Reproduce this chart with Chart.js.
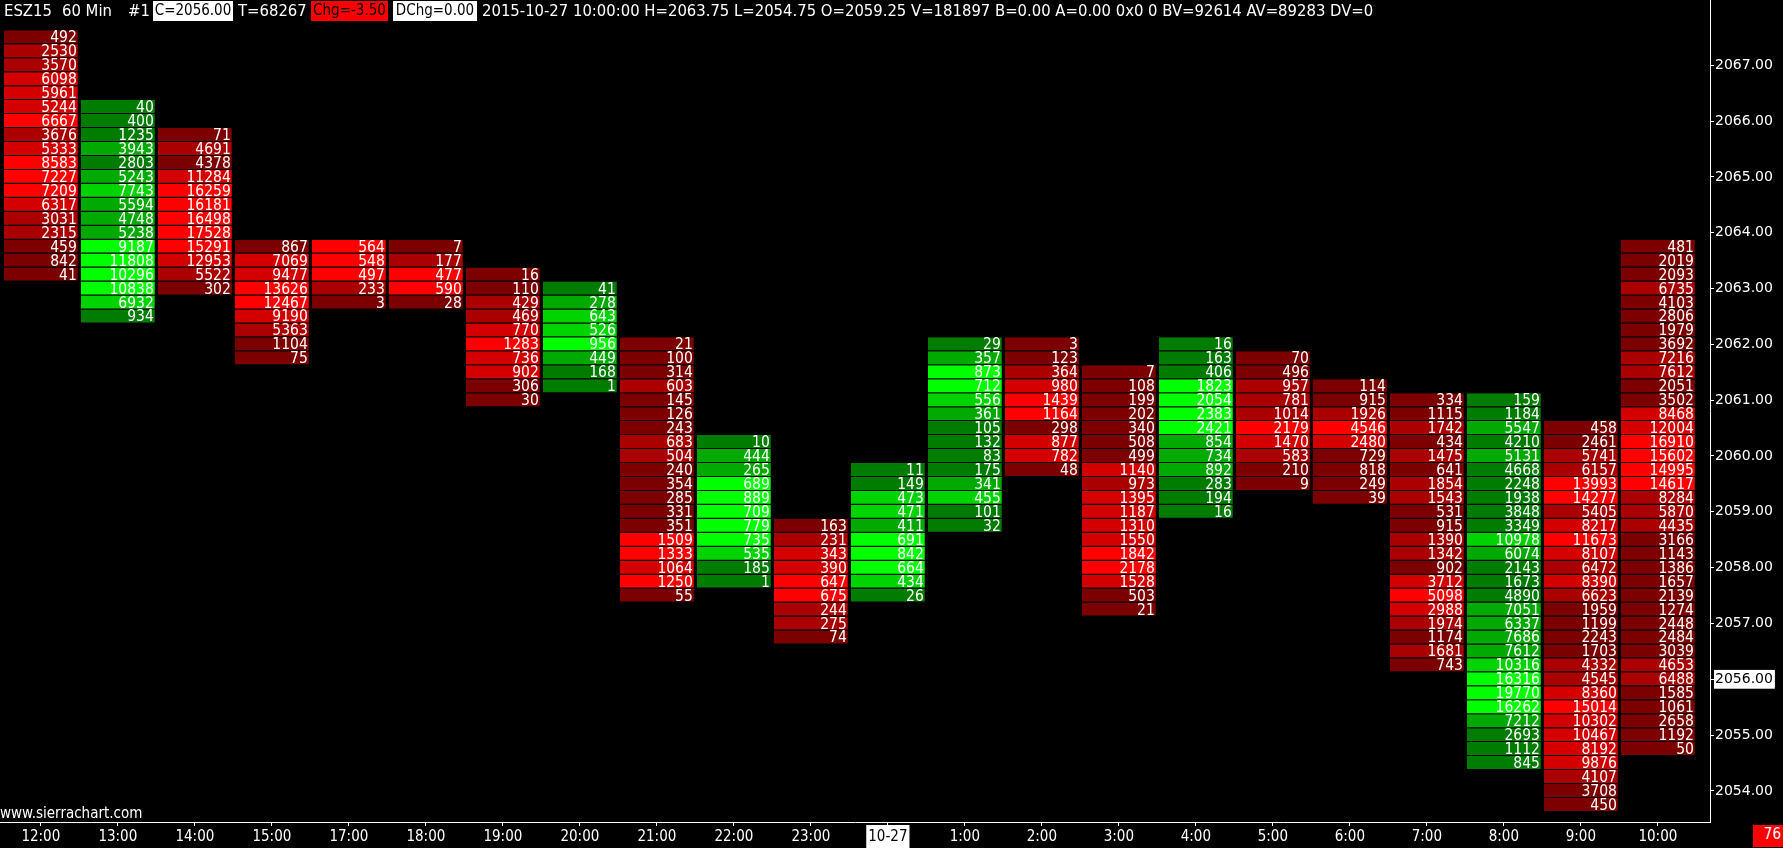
<!DOCTYPE html>
<html>
<head>
<meta charset="utf-8">
<title>ESZ15 60 Min - volume by price</title>
<script src="https://cdn.jsdelivr.net/npm/chart.js@4.4.0/dist/chart.umd.min.js"></script>
<style>
  html, body { margin: 0; padding: 0; background: #000; overflow: hidden; }
  #wrap { position: relative; width: 1783px; height: 848px; }
  canvas { position: absolute; left: 0; top: 0; }
  .hdr { position: absolute; top: 1px; height: 20px; line-height: 20px; color: #fff; white-space: pre;
         font: 16.5px "DejaVu Sans Condensed", "DejaVu Sans", sans-serif; font-stretch: condensed; }
  .box-w { background: #fff; color: #000; text-align: center; font-size: 15px; }
  .box-r { background: #ff0000; color: #000; text-align: center; font-size: 15px; }
  #site { position: absolute; left: 0; top: 804px; color: #fff; font: 15px "DejaVu Sans Condensed", "DejaVu Sans", sans-serif; font-stretch: condensed; }
  #timer { position: absolute; left: 1753px; top: 825px; width: 28px; height: 22px; line-height: 22px; padding-right: 2px;
           text-align: right; background: #ff0000; color: #fff; font: 15px "DejaVu Sans Condensed", "DejaVu Sans", sans-serif; font-stretch: condensed; }
</style>
</head>
<body>
<div id="wrap">
  <canvas id="footprint" width="1783" height="848"></canvas>
  <div id="header"></div>
  <div id="site">www.sierrachart.com</div>
  <div id="timer">76</div>
</div>
<script>
// bar times on the x axis
const hourLabels = ['12:00', '13:00', '14:00', '15:00', '17:00', '18:00', '19:00', '20:00', '21:00', '22:00', '23:00',
    '10-27', '1:00', '2:00', '3:00', '4:00', '5:00', '6:00', '7:00', '8:00', '9:00', '10:00'];
// bar direction (down = red, up = green)
const barSide = ['down', 'up', 'down', 'down', 'down', 'down', 'down', 'up', 'down', 'up', 'down',
    'up', 'up', 'down', 'down', 'up', 'down', 'down', 'down', 'up', 'down', 'down'];
// highest price of each bar, volumes listed from there downwards in 0.25 steps
const barHigh = [2067.50, 2066.25, 2065.75, 2063.75, 2063.75, 2063.75, 2063.25, 2063.00, 2062.00, 2060.25, 2058.75,
    2059.75, 2062.00, 2062.00, 2061.50, 2062.00, 2061.75, 2061.25, 2061.00, 2061.00, 2060.50, 2063.75];
const tickSize = 0.25;
const priceTicks = [2054, 2055, 2056, 2057, 2058, 2059, 2060, 2061, 2062, 2063, 2064, 2065, 2066, 2067];
const lastPrice = 2056;

const vol1200 = [492, 2530, 3570, 6098, 5961, 5244, 6667, 3676, 5333, 8583, 7227, 7209, 6317, 3031, 2315, 459, 842, 41];
const vol1300 = [40, 400, 1235, 3943, 2803, 5243, 7743, 5594, 4748, 5238, 9187, 11808, 10296, 10838, 6932, 934];
const vol1400 = [71, 4691, 4378, 11284, 16259, 16181, 16498, 17528, 15291, 12953, 5522, 302];
const vol1500 = [867, 7069, 9477, 13626, 12467, 9190, 5363, 1104, 75];
const vol1700 = [564, 548, 497, 233, 3];
const vol1800 = [7, 177, 477, 590, 28];
const vol1900 = [16, 110, 429, 469, 770, 1283, 736, 902, 306, 30];
const vol2000 = [41, 278, 643, 526, 956, 449, 168, 1];
const vol2100 = [21, 100, 314, 603, 145, 126, 243, 683, 504, 240, 354, 285, 331, 351, 1509, 1333, 1064, 1250, 55];
const vol2200 = [10, 444, 265, 689, 889, 709, 779, 735, 535, 185, 1];
const vol2300 = [163, 231, 343, 390, 647, 675, 244, 275, 74];
const vol0000 = [11, 149, 473, 471, 411, 691, 842, 664, 434, 26];
const vol0100 = [29, 357, 873, 712, 556, 361, 105, 132, 83, 175, 341, 455, 101, 32];
const vol0200 = [3, 123, 364, 980, 1439, 1164, 298, 877, 782, 48];
const vol0300 = [7, 108, 199, 202, 340, 508, 499, 1140, 973, 1395, 1187, 1310, 1550, 1842, 2178, 1528, 503, 21];
const vol0400 = [16, 163, 406, 1823, 2054, 2383, 2421, 854, 734, 892, 283, 194, 16];
const vol0500 = [70, 496, 957, 781, 1014, 2179, 1470, 583, 210, 9];
const vol0600 = [114, 915, 1926, 4546, 2480, 729, 818, 249, 39];
const vol0700 = [334, 1115, 1742, 434, 1475, 641, 1854, 1543, 531, 915, 1390, 1342, 902, 3712, 5098, 2988, 1974, 1174, 1681, 743];
const vol0800 = [159, 1184, 5547, 4210, 5131, 4668, 2248, 1938, 3848, 3349, 10978, 6074, 2143, 1673, 4890, 7051, 6337, 7686,
    7612, 10316, 16316, 19770, 16262, 7212, 2693, 1112, 845];
const vol0900 = [458, 2461, 5741, 6157, 13993, 14277, 5405, 8217, 11673, 8107, 6472, 8390, 6623, 1959, 1199, 2243, 1703, 4332,
    4545, 8360, 15014, 10302, 10467, 8192, 9876, 4107, 3708, 450];
const vol1000 = [481, 2019, 2093, 6735, 4103, 2806, 1979, 3692, 7216, 7612, 2051, 3502, 8468, 12004, 16910, 15602, 14995, 14617,
    8284, 5870, 4435, 3166, 1143, 1386, 1657, 2139, 1274, 2448, 2484, 3039, 4653, 6488, 1585, 1061, 2658, 1192, 50];

const barVolumes = [vol1200, vol1300, vol1400, vol1500, vol1700, vol1800, vol1900, vol2000, vol2100, vol2200, vol2300,
    vol0000, vol0100, vol0200, vol0300, vol0400, vol0500, vol0600, vol0700, vol0800, vol0900, vol1000];

// header line texts
const headerItems = [
    { text: 'ESZ15', x: 4 },
    { text: '60 Min', x: 62 },
    { text: '#1', x: 128 },
    { text: 'C=2056.00', x: 153, w: 80, cls: 'box-w' },
    { text: 'T=68267', x: 238 },
    { text: 'Chg=-3.50', x: 311, w: 77, cls: 'box-r' },
    { text: 'DChg=0.00', x: 393, w: 84, cls: 'box-w' },
    { text: '2015-10-27 10:00:00 H=2063.75 L=2054.75 O=2059.25 V=181897 B=0.00 A=0.00 0x0 0 BV=92614 AV=89283 DV=0', x: 482 }
];

const redShades = ['#7c0000', '#aa0000', '#d40000', '#ff0000'];
const greenShades = ['#007c00', '#00aa00', '#00d400', '#00ff00'];

// header
const header = document.getElementById('header');
headerItems.forEach(item => {
    const span = document.createElement('span');
    span.className = 'hdr' + (item.cls ? ' ' + item.cls : '');
    span.style.left = item.x + 'px';
    if (item.w) span.style.width = item.w + 'px';
    span.textContent = item.text;
    header.appendChild(span);
});

// one floating bar per price cell
const cells = [];
const cellColors = [];
const cellVolumes = [];
barVolumes.forEach((vols, col) => {
    const maxVol = Math.max(...vols);
    const shades = barSide[col] === 'up' ? greenShades : redShades;
    vols.forEach((v, row) => {
        const price = barHigh[col] - row * tickSize;
        cells.push({ x: col, y: [price - tickSize / 2, price + tickSize / 2] });
        // shade by quarter of the bar's largest volume
        cellColors.push(shades[Math.min(3, Math.floor(v / maxVol * 4))]);
        cellVolumes.push(v);
    });
});

const numberFont = '"DejaVu Sans Condensed", "DejaVu Sans", sans-serif';

// writes the volume inside each cell
const cellText = {
    id: 'cellText',
    afterDatasetsDraw(chart) {
        const c = chart.ctx;
        const meta = chart.getDatasetMeta(0);
        c.save();
        c.font = '15.5px ' + numberFont;
        c.fillStyle = '#ffffff';
        c.textAlign = 'right';
        c.textBaseline = 'middle';
        meta.data.forEach((bar, i) => {
            const p = bar.getProps(['x', 'y', 'base', 'width']);
            c.fillText(String(cellVolumes[i]), p.x + p.width / 2 - 1, (p.y + p.base) / 2 + 1);
        });
        c.restore();
    }
};

// no extra room for the first/last tick labels: plot fills the canvas
const noPadding = scale => {
    scale.paddingTop = 0;
    scale.paddingBottom = 0;
    scale.paddingLeft = 0;
    scale.paddingRight = 0;
};

const ctx = document.getElementById('footprint').getContext('2d');
new Chart(ctx, {
    type: 'bar',
    data: {
        datasets: [{
            data: cells,
            backgroundColor: cellColors,
            borderColor: '#000000',
            borderWidth: { top: 0, left: 0, right: 0, bottom: 1 },
            borderSkipped: false,
            barThickness: 74,
            inflateAmount: 0
        }]
    },
    options: {
        responsive: false,
        animation: false,
        layout: { padding: 0 },
        plugins: {
            legend: { display: false },
            tooltip: { enabled: false }
        },
        scales: {
            x: {
                type: 'linear',
                offset: false,
                min: -0.5305,
                max: 21.677,
                afterBuildTicks: scale => { scale.ticks = hourLabels.map((_, i) => ({ value: i })); },
                afterFit: scale => { scale.height = 26; noPadding(scale); },
                grid: { offset: false, drawOnChartArea: false, drawTicks: true, tickLength: 4, color: '#ffffff' },
                border: { display: true, color: '#ffffff', width: 1 },
                ticks: {
                    autoSkip: false,
                    maxRotation: 0,
                    padding: 2,
                    callback: value => hourLabels[value],
                    color: c => hourLabels[c.index] === '10-27' ? '#000000' : '#ffffff',
                    font: { family: numberFont, size: 15 },
                    showLabelBackdrop: c => hourLabels[c.index] === '10-27',
                    backdropColor: '#ffffff',
                    backdropPadding: { top: 3, bottom: 3, left: 2, right: 2 }
                }
            },
            y: {
                type: 'linear',
                position: 'right',
                min: 2053.444,
                max: 2068.168,
                afterBuildTicks: scale => { scale.ticks = priceTicks.map(v => ({ value: v })); },
                afterFit: scale => { scale.width = 73; noPadding(scale); },
                grid: { drawOnChartArea: false, drawTicks: true, tickLength: 4, color: '#ffffff' },
                border: { display: true, color: '#ffffff', width: 1 },
                ticks: {
                    padding: 1,
                    callback: value => value.toFixed(2),
                    color: c => c.tick && c.tick.value === lastPrice ? '#000000' : '#ffffff',
                    font: { family: '"DejaVu Sans", sans-serif', size: 14 },
                    showLabelBackdrop: c => !!(c.tick && c.tick.value === lastPrice),
                    backdropColor: '#ffffff',
                    backdropPadding: { top: 1, bottom: 1, left: 1, right: 2 }
                }
            }
        }
    },
    plugins: [cellText]
});
</script>
</body>
</html>
